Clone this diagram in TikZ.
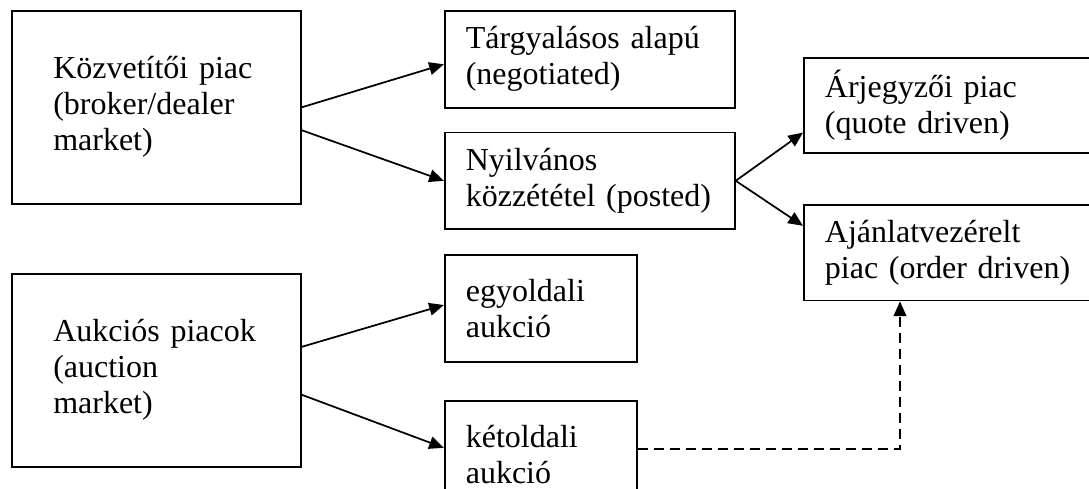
\documentclass[tikz,border=0pt]{standalone}
\usepackage{fontspec}
\setmainfont{Liberation Serif}
\usetikzlibrary{positioning,arrows.meta}
\newcommand{\mktfont}{\fontsize{24pt}{27pt}\selectfont}

\begin{document}
\begin{tikzpicture}[x=0.75pt, y=-0.75pt,
  market/.style = {draw, line width=1.4pt, align=left, anchor=north west,
    inner xsep=15.75pt, inner ysep=0pt, font=\mktfont},
  bigbox/.style = {market, inner xsep=31pt, text width=154.75pt, minimum height=144.5pt},
  midbox/.style = {market, text width=186pt, minimum height=72.5pt},
  widebox/.style = {market, text width=191.25pt, minimum height=71.5pt},
  aucbox/.style = {market, text width=112.5pt, minimum height=80.25pt},
  link/.style = {line width=1.3pt, -{Triangle[length=11pt, width=9.5pt]}}]
	\useasboundingbox (0,0) rectangle (1089,489);
	\clip (0,0) rectangle (1089,489);
	% boxes
	\node[bigbox] (broker) at (11,10) {Közvetítői piac\\(broker/dealer\\market)};
	\node[midbox] (neg) [right=106.5pt of broker.north east, anchor=north west] {Tárgyalásos alapú\\(negotiated)};
	\node[midbox] (post) [below=17.25pt of neg.south west, anchor=north west] {Nyilvános\\közzététel (posted)};
	\node[widebox] (quote) at (803,57) {Árjegyzői piac\\(quote driven)};
	\node[widebox] (order) [below=37.5pt of quote.south west, anchor=north west] {Ajánlatvezérelt\\piac (order driven)};
	\node[bigbox] (auction) at (11,273) {Aukciós piacok\\(auction\\market)};
	\node[aucbox] (one) [below=18pt of post.south west, anchor=north west] {egyoldali\\aukció};
	\node[aucbox] (two) [below=27.75pt of one.south west, anchor=north west] {kétoldali\\aukció};
	% arrows
	\draw[link] (broker.east) -- ([yshift=-3.75pt]neg.west);
	\draw[link] ([yshift=-17.25pt]broker.east) -- (post.west);
	\draw[link] (post.east) -- ([yshift=-20.25pt]quote.west);
	\draw[link] (post.east) -- ([yshift=20.25pt]order.west);
	\draw[link] ([yshift=17.6pt]auction.east) -- ([yshift=2.6pt]one.west);
	\draw[link] ([yshift=-18.4pt]auction.east) -- ([yshift=4.9pt]two.west);
	\draw[link, dash pattern=on 7.5pt off 4.5pt] ([yshift=4.1pt]two.east) -| ([xshift=72.75pt]order.south west);
\end{tikzpicture}
\end{document}
